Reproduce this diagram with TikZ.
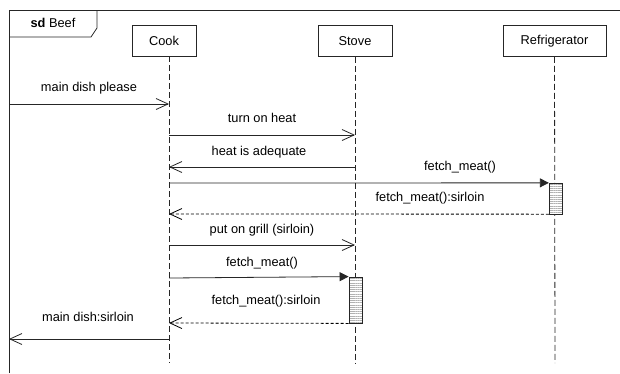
\documentclass[tikz,border=0pt]{standalone}
\usepackage{fontspec}
\setmainfont{Liberation Sans}
\usetikzlibrary{arrows.meta,patterns.meta}
\begin{document}
\begin{tikzpicture}[x=1pt,y=-1pt,
  ink/.style={draw=black!85, line width=0.8pt},
  lbl/.style={font=\fontsize{12.8}{14}\selectfont, inner sep=0pt, text=black},
  head/.style={ink, lbl, minimum height=31pt, inner sep=0pt},
  life/.style={ink, dash pattern=on 6pt off 3pt},
  msg/.style={ink, -{Straight Barb[length=12pt,width=11pt,line width=0.8pt]}},
  call/.style={ink, -{Triangle[length=9pt,width=9pt]}},
  reply/.style={msg, draw=black, dash pattern=on 3pt off 2pt},
  act/.style={ink, preaction={fill=white},
    pattern={Lines[angle=0,distance=2.2pt,line width=0.3pt]}, pattern color=black!30}
]
\useasboundingbox (0,0) rectangle (620,373);
\fill[white] (0,0) rectangle (620,373);

% interaction frame and its name tab
\draw[ink, line width=1pt] (9,373) -- (9,10) -- (620,10);
\draw[ink] (9,37) -- (91,37) -- (97,28) -- (97,10);
\node[lbl] (title) at (53,23) {\textbf{sd} Beef};

% lifeline heads
\node[head, minimum width=64pt] (cook) at (164,40.5) {Cook};
\node[head, minimum width=74pt] (stove) at (355,41) {Stove};
\node[head, minimum width=103pt] (fridge) at (554.5,41) {Refrigerator};

% lifelines
\coordinate (cookT) at (169,56);
\coordinate (cookB) at (169,363);
\coordinate (stoveB) at (355,363);
\coordinate (fridgeB) at (555,363);
\draw[life] (cookT) -- (cookB);
\draw[life] (stove.south) -- (stoveB);
\draw[life] (fridge.south) -- (fridgeB);

% execution specifications
\node[act, minimum width=13pt, minimum height=31pt, inner sep=0pt] (actF) at (555.5,198.5) {};
\node[act, minimum width=13pt, minimum height=46pt, inner sep=0pt] (actS) at (355.5,300) {};

% message end points
\coordinate (g1) at (9,104);    \coordinate (c1) at (169,104);
\coordinate (c2) at (169,135);  \coordinate (s2) at (355,135);
\coordinate (s3) at (355,167);  \coordinate (c3) at (169,167);
\coordinate (c4) at (169,183);
\coordinate (c5) at (169,214);
\coordinate (c6) at (169,245);  \coordinate (s6) at (355,245);
\coordinate (c7) at (169,278);
\coordinate (c8) at (169,323);
\coordinate (c9) at (169,339);  \coordinate (g9) at (9,339);

% messages
\draw[msg] (g1) -- (c1);
\draw[msg] (c2) -- (s2);
\draw[msg] (s3) -- (c3);
\draw[call] (c4) -- (actF.north west);
\draw[reply] (actF.south west) -- (c5);
\draw[msg] (c6) -- (s6);
\draw[call] (c7) -- (actS.north west);
\draw[reply] (actS.south west) -- (c8);
\draw[msg] (c9) -- (g9);

% message labels
\node[lbl] (l1) at (89,88) {main dish please};
\node[lbl] (l2) at (262,118) {turn on heat};
\node[lbl] (l3) at (259,152) {heat is adequate};
\node[lbl] (l4) at (460,167) {fetch\_meat()};
\node[lbl] (l5) at (430,198) {fetch\_meat():sirloin};
\node[lbl] (l6) at (262,230) {put on grill (sirloin)};
\node[lbl] (l7) at (262,263) {fetch\_meat()};
\node[lbl] (l8) at (266,301) {fetch\_meat():sirloin};
\node[lbl] (l9) at (88,317) {main dish:sirloin};
\end{tikzpicture}
\end{document}
